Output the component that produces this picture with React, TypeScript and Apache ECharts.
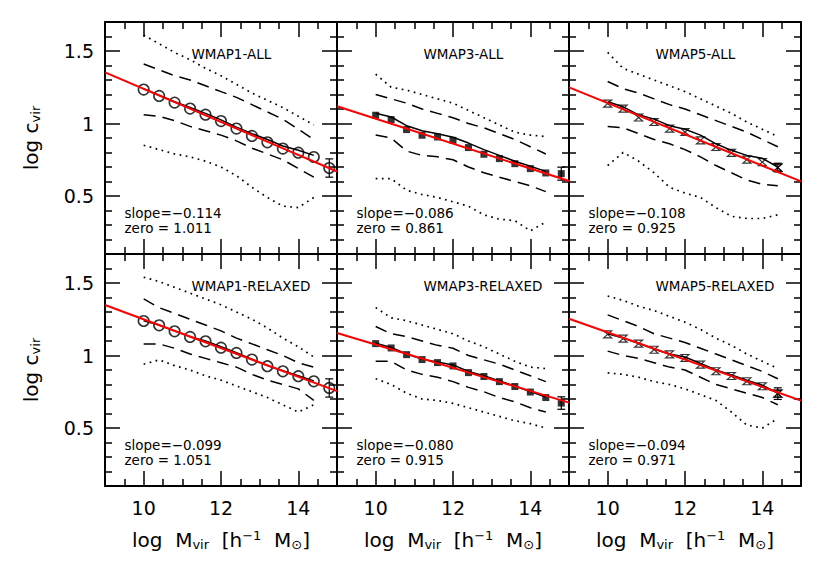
import React, { useEffect, useRef } from "react";
import * as echarts from "echarts";

// ---------- data ----------
const MASS_BINS = [10, 10.4, 10.8, 11.2, 11.6, 12, 12.4, 12.8, 13.2, 13.6, 14, 14.4];

const PANEL_TITLES = ["WMAP1-ALL", "WMAP3-ALL", "WMAP5-ALL", "WMAP1-RELAXED", "WMAP3-RELAXED", "WMAP5-RELAXED"];
const FIT_SLOPE = [-0.114, -0.086, -0.108, -0.099, -0.08, -0.094];
const FIT_ZERO = [1.011, 0.861, 0.925, 1.051, 0.915, 0.971];
const FIT_PIVOT = 12;
const SLOPE_LABELS = ["slope=−0.114", "slope=−0.086", "slope=−0.108", "slope=−0.099", "slope=−0.080", "slope=−0.094"];
const ZERO_LABELS = ["zero = 1.011", "zero = 0.861", "zero = 0.925", "zero = 1.051", "zero = 0.915", "zero = 0.971"];

const X_RANGE = [9, 15];
const Y_RANGE = [0.1, 1.7];
const X_MAJOR = [10, 12, 14];
const X_MINOR = [9.5, 10.5, 11, 11.5, 12.5, 13, 13.5, 14.5];
const Y_MAJOR = [0.5, 1, 1.5];
const Y_MINOR = [0.2, 0.3, 0.4, 0.6, 0.7, 0.8, 0.9, 1.1, 1.2, 1.3, 1.4, 1.6];

// mean log c per mass bin (markers)
const MEAN_C = [
  [1.234, 1.19, 1.144, 1.103, 1.061, 1.017, 0.965, 0.914, 0.87, 0.827, 0.799, 0.769],
  [1.057, 1.027, 0.958, 0.919, 0.907, 0.884, 0.834, 0.788, 0.758, 0.723, 0.689, 0.659],
  [1.137, 1.103, 1.041, 1.01, 0.965, 0.941, 0.884, 0.838, 0.797, 0.751, 0.734, 0.696],
  [1.238, 1.208, 1.167, 1.128, 1.098, 1.054, 1.018, 0.972, 0.926, 0.891, 0.857, 0.822],
  [1.082, 1.052, 1.006, 0.972, 0.951, 0.928, 0.882, 0.855, 0.82, 0.786, 0.748, 0.71],
  [1.146, 1.116, 1.082, 1.04, 1.008, 0.983, 0.937, 0.891, 0.859, 0.822, 0.788, 0.737],
];
// median (solid black)
const MEDIAN_C = [
  [1.24, 1.195, 1.15, 1.11, 1.07, 1.025, 0.975, 0.93, 0.89, 0.845, 0.815, 0.78],
  [1.07, 1.045, 0.985, 0.95, 0.93, 0.905, 0.865, 0.82, 0.78, 0.74, 0.705, 0.67],
  [1.15, 1.115, 1.06, 1.03, 0.985, 0.96, 0.92, 0.86, 0.815, 0.78, 0.76, 0.7],
  [1.24, 1.21, 1.17, 1.13, 1.1, 1.06, 1.02, 0.975, 0.93, 0.895, 0.86, 0.825],
  [1.085, 1.055, 1.01, 0.975, 0.955, 0.935, 0.89, 0.86, 0.825, 0.79, 0.752, 0.713],
  [1.15, 1.12, 1.085, 1.045, 1.01, 0.99, 0.945, 0.9, 0.865, 0.83, 0.795, 0.74],
];
// inner percentiles (dashed)
const DASH_HI = [
  [1.41, 1.37, 1.33, 1.3, 1.26, 1.22, 1.18, 1.13, 1.08, 1.03, 0.96, 0.89],
  [1.2, 1.17, 1.14, 1.1, 1.07, 1.04, 1.0, 0.97, 0.93, 0.89, 0.84, 0.79],
  [1.29, 1.24, 1.21, 1.17, 1.13, 1.1, 1.06, 1.02, 0.98, 0.94, 0.89, 0.84],
  [1.39, 1.33, 1.29, 1.25, 1.21, 1.17, 1.12, 1.08, 1.04, 1.0, 0.95, 0.92],
  [1.2, 1.15, 1.13, 1.1, 1.07, 1.05, 1.0, 0.97, 0.94, 0.9, 0.86, 0.82],
  [1.28, 1.24, 1.2, 1.15, 1.12, 1.09, 1.05, 1.01, 0.97, 0.93, 0.89, 0.84],
];
const DASH_LO = [
  [1.06, 1.05, 1.02, 0.98, 0.95, 0.92, 0.88, 0.83, 0.79, 0.75, 0.69, 0.63],
  [0.92, 0.9, 0.81, 0.78, 0.77, 0.75, 0.7, 0.66, 0.63, 0.6, 0.57, 0.53],
  [0.98, 0.97, 0.93, 0.89, 0.86, 0.82, 0.77, 0.71, 0.66, 0.61, 0.58, 0.57],
  [1.08, 1.08, 1.05, 1.01, 0.98, 0.95, 0.92, 0.87, 0.83, 0.8, 0.77, 0.69],
  [0.96, 0.96, 0.9, 0.87, 0.85, 0.82, 0.78, 0.75, 0.71, 0.68, 0.64, 0.61],
  [1.03, 1.0, 0.98, 0.95, 0.92, 0.9, 0.85, 0.8, 0.77, 0.74, 0.71, 0.66],
];
// outer percentiles (dotted)
const DOT_HI = [
  [1.61, 1.55, 1.49, 1.44, 1.38, 1.33, 1.27, 1.21, 1.16, 1.11, 1.05, 0.99],
  [1.34, 1.25, 1.23, 1.2, 1.17, 1.14, 1.09, 1.04, 0.99, 0.94, 0.92, 0.91],
  [1.49, 1.38, 1.34, 1.3, 1.26, 1.22, 1.17, 1.12, 1.07, 1.01, 0.96, 0.91],
  [1.54, 1.51, 1.47, 1.43, 1.39, 1.35, 1.3, 1.25, 1.19, 1.12, 1.06, 0.99],
  [1.33, 1.26, 1.24, 1.21, 1.18, 1.15, 1.1, 1.06, 1.01, 0.96, 0.92, 0.91],
  [1.41, 1.38, 1.34, 1.31, 1.27, 1.23, 1.18, 1.12, 1.07, 1.01, 0.96, 0.91],
];
const DOT_LO = [
  [0.85, 0.82, 0.79, 0.77, 0.74, 0.7, 0.64, 0.56, 0.49, 0.43, 0.42, 0.49],
  [0.62, 0.62, 0.54, 0.51, 0.49, 0.46, 0.43, 0.37, 0.34, 0.33, 0.26, 0.32],
  [0.71, 0.8, 0.74, 0.66, 0.56, 0.52, 0.49, 0.42, 0.36, 0.345, 0.345, 0.37],
  [0.94, 0.97, 0.93, 0.9, 0.86, 0.83, 0.79, 0.75, 0.71, 0.66, 0.61, 0.66],
  [0.84, 0.8, 0.74, 0.7, 0.69, 0.67, 0.64, 0.61, 0.58, 0.55, 0.53, 0.5],
  [0.88, 0.87, 0.85, 0.82, 0.8, 0.77, 0.73, 0.69, 0.61, 0.52, 0.5, 0.565],
];
// point with error bar: [log M, log c, error]
const ERR_POINT = [
  [14.8, 0.693, 0.063],
  [14.8, 0.654, 0.045],
  [14.4, 0.696, 0.03],
  [14.8, 0.776, 0.063],
  [14.8, 0.672, 0.043],
  [14.4, 0.737, 0.04],
];
const MARKER = ["circle", "square", "hourglass", "circle", "square", "hourglass"];

// ---------- layout ----------
const FONT = "DejaVu Sans";
const PANEL_LEFT = 105;
const PANEL_TOP = 22;
const PANEL_W = 232;
const PANEL_H = 232;

function markerStyle(kind: string) {
  if (kind === "circle")
    return { symbol: "circle", symbolSize: 10.5, itemStyle: { color: "rgba(0,0,0,0)", borderColor: "#000", borderWidth: 1.6 } };
  if (kind === "square")
    return { symbol: "rect", symbolSize: 7, itemStyle: { color: "#000", borderWidth: 0 } };
  return {
    symbol: "path://M0 0L10 0L0 10L10 10Z",
    symbolSize: [8, 7],
    itemStyle: { color: "rgba(0,0,0,0)", borderColor: "#000", borderWidth: 1.2 },
  };
}

function mkAxis(dim: "x" | "y", p: number, position: string, major: boolean, showLabel: boolean) {
  const isX = dim === "x";
  return {
    type: "value",
    gridIndex: p,
    position,
    min: isX ? X_RANGE[0] : Y_RANGE[0],
    max: isX ? X_RANGE[1] : Y_RANGE[1],
    axisLine: { show: major, onZero: false, lineStyle: { color: "#000", width: 2 } },
    axisTick: {
      show: true,
      inside: true,
      length: major ? 15 : 7,
      customValues: major ? (isX ? X_MAJOR : Y_MAJOR) : isX ? X_MINOR : Y_MINOR,
      lineStyle: { color: "#000", width: 1.5 },
    },
    axisLabel: {
      show: showLabel,
      customValues: isX ? X_MAJOR : Y_MAJOR,
      color: "#000",
      fontSize: 19,
      fontFamily: FONT,
      margin: isX ? 12 : 11,
      formatter: (v: number) => String(v),
    },
    splitLine: { show: false },
  };
}

function buildOption() {
  const grid: any[] = [];
  const xAxis: any[] = [];
  const yAxis: any[] = [];
  const series: any[] = [];
  const graphic: any[] = [];
  const pairs = (ys: number[]) => MASS_BINS.map((x, i) => [x, ys[i]]);

  for (let p = 0; p < 6; p++) {
    const col = p % 3;
    const row = Math.floor(p / 3);
    const left = PANEL_LEFT + col * PANEL_W;
    const top = PANEL_TOP + row * PANEL_H;
    grid.push({ left, top, width: PANEL_W, height: PANEL_H, containLabel: false, outerBoundsMode: "none" });
    xAxis.push(
      mkAxis("x", p, "bottom", true, row === 1),
      mkAxis("x", p, "bottom", false, false),
      mkAxis("x", p, "top", true, false),
      mkAxis("x", p, "top", false, false)
    );
    yAxis.push(
      mkAxis("y", p, "left", true, col === 0),
      mkAxis("y", p, "left", false, false),
      mkAxis("y", p, "right", true, false),
      mkAxis("y", p, "right", false, false)
    );
    const ax = { xAxisIndex: p * 4, yAxisIndex: p * 4 };
    const lineBase = { type: "line", ...ax, symbol: "none", silent: true, z: 2 };
    const dotted = { color: "#000", width: 1.7, type: [1.7, 4.5] };
    const dashed = { color: "#000", width: 1.5, type: [12, 7] };
    series.push({ ...lineBase, data: pairs(DOT_HI[p]), lineStyle: dotted });
    series.push({ ...lineBase, data: pairs(DOT_LO[p]), lineStyle: dotted });
    series.push({ ...lineBase, data: pairs(DASH_HI[p]), lineStyle: dashed });
    series.push({ ...lineBase, data: pairs(DASH_LO[p]), lineStyle: dashed });
    series.push({ ...lineBase, data: pairs(MEDIAN_C[p]), lineStyle: { color: "#000", width: 1.5 } });
    const mk = markerStyle(MARKER[p]);
    series.push({ type: "scatter", ...ax, data: pairs(MEAN_C[p]), ...mk, silent: true, z: 3 });
    series.push({ type: "scatter", ...ax, data: [ERR_POINT[p].slice(0, 2)], ...mk, silent: true, z: 3 });
    series.push({
      type: "custom",
      ...ax,
      data: [ERR_POINT[p]],
      encode: { x: 0, y: 1 },
      silent: true,
      z: 3,
      renderItem: (_params: any, api: any) => {
        const x = api.value(0);
        const y = api.value(1);
        const e = api.value(2);
        const a = api.coord([x, y + e]);
        const b = api.coord([x, y - e]);
        const cap = 4;
        const st = { stroke: "#000", lineWidth: 1.2 };
        return {
          type: "group",
          children: [
            { type: "line", shape: { x1: a[0], y1: a[1], x2: b[0], y2: b[1] }, style: st },
            { type: "line", shape: { x1: a[0] - cap, y1: a[1], x2: a[0] + cap, y2: a[1] }, style: st },
            { type: "line", shape: { x1: b[0] - cap, y1: b[1], x2: b[0] + cap, y2: b[1] }, style: st },
          ],
        };
      },
    });
    const fit = (x: number) => FIT_ZERO[p] + FIT_SLOPE[p] * (x - FIT_PIVOT);
    series.push({
      ...lineBase,
      z: 5,
      data: [
        [X_RANGE[0], fit(X_RANGE[0])],
        [X_RANGE[1], fit(X_RANGE[1])],
      ],
      lineStyle: { color: "#ff0000", width: 2 },
    });

    const txt = (text: string, x: number, y: number, size: number, extra: any = {}) => ({
      type: "text",
      x,
      y,
      silent: true,
      z: 10,
      style: {
        text,
        fill: "#000",
        fontSize: size,
        fontFamily: FONT,
        align: "left",
        verticalAlign: "middle",
        textAlign: "left",
        textVerticalAlign: "middle",
        ...extra,
      },
    });
    graphic.push(txt(PANEL_TITLES[p], left + 86.5, top + 31.5, 13.5));
    graphic.push(txt(SLOPE_LABELS[p], left + 19.5, top + 190.5, 13.5));
    graphic.push(txt(ZERO_LABELS[p], left + 19.5, top + 205.5, 13.5));

    if (col === 0) {
      graphic.push({
        type: "text",
        x: 31,
        y: top + PANEL_H / 2,
        rotation: Math.PI / 2,
        silent: true,
        style: {
          text: "log c{sub|vir}",
          fill: "#000",
          fontSize: 20,
          fontFamily: FONT,
          align: "center",
          verticalAlign: "middle",
          textAlign: "center",
          textVerticalAlign: "middle",
          rich: {
            sub: { fontSize: 13, fontFamily: FONT, fill: "#000", padding: [9, 0, 0, 0] },
          },
        },
      });
    }
    if (row === 1) {
      graphic.push({
        type: "text",
        x: left + PANEL_W / 2,
        y: 540,
        silent: true,
        style: {
          text: "log  M{sub|vir}  [h{sup|−1}  M{sub|⊙}]",
          fill: "#000",
          fontSize: 20,
          fontFamily: FONT,
          align: "center",
          verticalAlign: "middle",
          textAlign: "center",
          textVerticalAlign: "middle",
          rich: {
            sub: { fontSize: 13, fontFamily: FONT, fill: "#000", padding: [9, 0, 0, 0] },
            sup: { fontSize: 13, fontFamily: FONT, fill: "#000", padding: [0, 0, 9, 0] },
          },
        },
      });
    }
  }

  return {
    animation: false,
    backgroundColor: "#ffffff",
    grid,
    xAxis,
    yAxis,
    series,
    graphic: { elements: graphic },
  };
}

export default function App() {
  const ref = useRef<HTMLDivElement>(null);
  useEffect(() => {
    document.body.style.margin = "0";
    if (!ref.current) return;
    const chart = echarts.init(ref.current, undefined, { renderer: "svg" });
    chart.setOption(buildOption() as any);
    return () => chart.dispose();
  }, []);
  return <div ref={ref} style={{ width: 830, height: 563, background: "#fff" }} />;
}
